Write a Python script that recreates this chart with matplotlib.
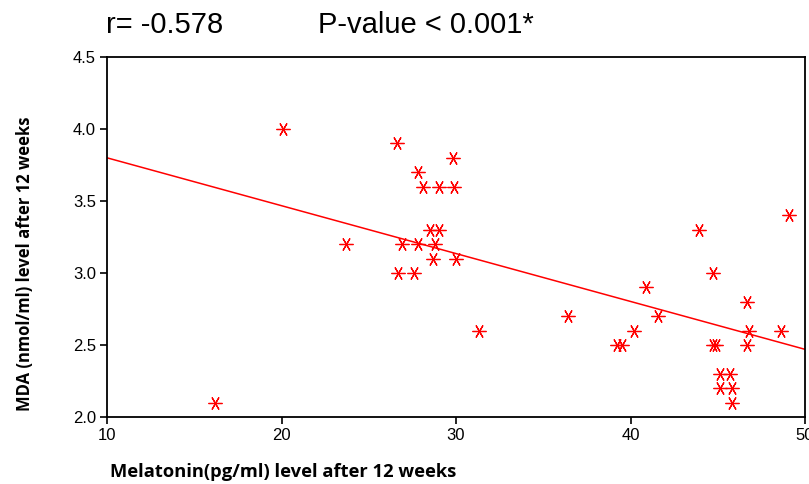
import matplotlib
matplotlib.use("Agg")
import matplotlib.pyplot as plt
from matplotlib.ticker import FormatStrFormatter

# melatonin (pg/ml) and MDA (nmol/ml) after 12 weeks
melatonin = [20.1, 26.6, 29.8, 27.8, 28.1, 29.0, 29.9, 28.5, 29.0, 23.7,
             26.9, 27.8, 28.8, 28.7, 30.0, 26.7, 27.6, 31.3, 36.4, 39.2,
             39.5, 40.2, 40.9, 41.6, 43.9, 44.7, 44.7, 44.9, 45.1, 45.7,
             45.1, 45.8, 45.8, 46.7, 46.8, 46.7, 48.6, 49.1, 16.2]
mda = [4.0, 3.9, 3.8, 3.7, 3.6, 3.6, 3.6, 3.3, 3.3, 3.2,
       3.2, 3.2, 3.2, 3.1, 3.1, 3.0, 3.0, 2.6, 2.7, 2.5,
       2.5, 2.6, 2.9, 2.7, 3.3, 3.0, 2.5, 2.5, 2.3, 2.3,
       2.2, 2.2, 2.1, 2.8, 2.6, 2.5, 2.6, 3.4, 2.1]

# fitted regression line, end points
fit_x = [10, 50]
fit_y = [3.80, 2.47]

r_text = "r= -0.578"
p_text = "P-value < 0.001*"

plt.rcParams['font.family'] = ['Liberation Sans', 'DejaVu Sans']

fig = plt.figure(figsize=(8.09, 4.84), dpi=100)
ax = fig.add_axes([0.1323, 0.1384, 0.8628, 0.7438])

ax.plot(fit_x, fit_y, color='#ff0000', linewidth=1.1, zorder=2)
ax.plot(melatonin, mda, linestyle='none', marker=(6, 2, 90), markersize=10,
        markeredgewidth=0.9, color='#ff0000', zorder=3)

ax.set_xlim(10, 50)
ax.set_ylim(2.0, 4.5)
ax.set_xticks([10, 20, 30, 40, 50])
ax.set_yticks([2.0, 2.5, 3.0, 3.5, 4.0, 4.5])
ax.yaxis.set_major_formatter(FormatStrFormatter('%.1f'))
ax.tick_params(direction='out', length=5, width=1.2, labelsize=12, pad=3)
for s in ax.spines.values():
    s.set_linewidth(1.3)

ax.set_ylabel("MDA (nmol/ml) level after 12 weeks", family='Open Sans',
              fontweight='bold', fontsize=12)
ax.yaxis.set_label_coords(-0.105, 0.425)

fig.text(110 / 809, 1 - 477 / 484, "Melatonin(pg/ml) level after 12 weeks",
         family='Open Sans', fontweight='bold', fontsize=13.2, va='baseline')

fig.text(106 / 809, 1 - 33 / 484, r_text, fontsize=21, va='baseline')
fig.text(318 / 809, 1 - 33 / 484, p_text, fontsize=21, va='baseline')

fig.savefig("out.png", dpi=100)
